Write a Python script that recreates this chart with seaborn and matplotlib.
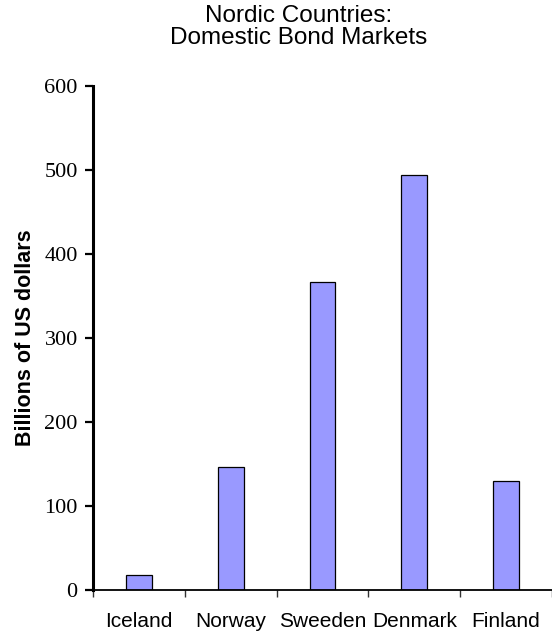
import numpy as np
import pandas as pd
import seaborn as sns
import matplotlib.pyplot as plt

#Chart data
countries = ["Iceland", "Norway", "Sweeden", "Denmark", "Finland"]
bond_market = [18, 146, 367, 494, 130]  #Billions of US dollars
y_ticks = [0, 100, 200, 300, 400, 500, 600]

df = pd.DataFrame({"country": countries, "value": bond_market})

#Figure and axes placed to match the reference
fig = plt.figure(figsize=(5.52, 6.35), dpi=100)
ax = fig.add_axes([93/552, 45/635, 459/552, 504/635])

sns.barplot(data=df, x="country", y="value", color="#9999FF", saturation=1,
            edgecolor="black", linewidth=0.9, width=0.28, ax=ax)

ax.set_xlim(-0.5, len(countries) - 0.5)
ax.set_ylim(0, 600)
ax.set_yticks(y_ticks)
ax.set_yticklabels([str(v) for v in y_ticks], fontfamily="Liberation Serif", fontsize=16)

#Category labels at bar centres, tick marks at the boundaries
ax.set_xticks(range(len(countries)))
ax.set_xticklabels(countries, fontfamily="Liberation Sans", fontsize=15)
ax.set_xticks(np.arange(-0.5, len(countries), 1), minor=True)
ax.tick_params(axis="x", which="major", length=0, pad=16)
ax.tick_params(axis="x", which="minor", length=5, width=1, color="#333333")
ax.tick_params(axis="y", length=6, width=1.6, pad=5)

for side in ["top", "right"]:
    ax.spines[side].set_visible(False)
ax.spines["left"].set_linewidth(2.2)
ax.spines["bottom"].set_linewidth(1.3)

ax.set_xlabel("")
ax.set_ylabel("Billions of US dollars", fontfamily="Liberation Sans", fontsize=15.5,
              fontweight="bold")
ax.yaxis.set_label_coords(-0.124, 0.5)

fig.text(299/552, 0.992, "Nordic Countries:\nDomestic Bond Markets", ha="center", va="top",
         fontfamily="Liberation Sans", fontsize=17.5, linespacing=1.0)

plt.savefig("out.png", dpi=100)
plt.close()
